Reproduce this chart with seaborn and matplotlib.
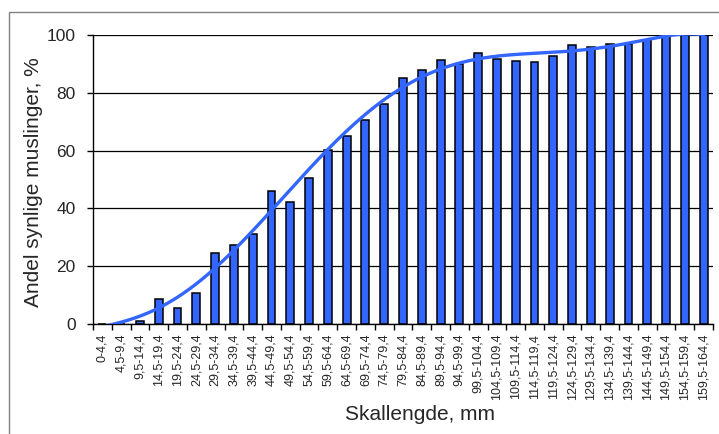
import numpy as np
import pandas as pd
import matplotlib
matplotlib.use("Agg")
import matplotlib.pyplot as plt
import seaborn as sns
from matplotlib.patches import Rectangle

# Shell length classes (mm)
lower = [0, 4.5, 9.5, 14.5, 19.5, 24.5, 29.5, 34.5, 39.5, 44.5, 49.5, 54.5,
         59.5, 64.5, 69.5, 74.5, 79.5, 84.5, 89.5, 94.5, 99.5, 104.5, 109.5,
         114.5, 119.5, 124.5, 129.5, 134.5, 139.5, 144.5, 149.5, 154.5, 159.5]
upper = [4.4, 9.4, 14.4, 19.4, 24.4, 29.4, 34.4, 39.4, 44.4, 49.4, 54.4, 59.4,
         64.4, 69.4, 74.4, 79.4, 84.4, 89.4, 94.4, 99.4, 104.4, 109.4, 114.4,
         119.4, 124.4, 129.4, 134.4, 139.4, 144.4, 149.4, 154.4, 159.4, 164.4]

# Share of visible mussels per length class (%)
share = [0.0, 0.0, 1.2, 8.5, 5.5, 10.6, 24.7, 27.3, 31.3, 46.1, 42.1, 50.4,
         60.2, 64.9, 70.5, 76.0, 85.1, 87.8, 91.3, 90.0, 93.8, 91.6, 91.0,
         90.7, 92.8, 96.4, 95.8, 97.0, 97.0, 98.3, 100.0, 100.0, 100.0]


def fmt(v):
    return f"{v:g}".replace(".", ",")


labels = [f"{fmt(a)}-{fmt(b)}" for a, b in zip(lower, upper)]
df = pd.DataFrame({"klasse": labels, "andel": share})

sns.set_theme(style="white")
plt.rcParams["font.family"] = ["Liberation Sans", "DejaVu Sans"]

blue = "#3366FF"
fig = plt.figure(figsize=(7.19, 4.34), dpi=100)
ax = fig.add_axes([93 / 719, 1 - 324 / 434, 620 / 719, 289 / 434])

sns.barplot(data=df, x="klasse", y="andel", color=blue, saturation=1,
            width=0.42, edgecolor="black", linewidth=1.1, ax=ax, zorder=2)

# Polynomial trend line (6th order) fitted to the class shares
xi = np.arange(1, len(share) + 1)
coef = np.polyfit(xi, share, 6)
xs = np.linspace(1, len(share), 400)
ax.plot(xs - 1, np.polyval(coef, xs), color=blue, lw=2.4, zorder=3,
        solid_capstyle="round")

ax.set_xlim(-0.5, len(share) - 0.5)
ax.set_ylim(0, 100)
ax.set_yticks(range(0, 101, 20))
ax.yaxis.grid(True, color="black", lw=0.9)
ax.set_axisbelow(True)

for side in ["top", "right"]:
    ax.spines[side].set_visible(False)
for side in ["left", "bottom"]:
    ax.spines[side].set_color("black")
    ax.spines[side].set_linewidth(1.0)

ax.set_xticks(range(len(labels)))
ax.set_xticklabels(labels, rotation=90, fontsize=9)
ax.set_xticks(np.arange(-0.5, len(labels)), minor=True)
ax.tick_params(axis="x", which="major", length=0, pad=7)
ax.tick_params(axis="x", which="minor", length=4, width=1.0, color="black",
               direction="out", bottom=True)
ax.tick_params(axis="y", length=4, width=1.0, color="black",
               direction="out", left=True, labelsize=12.5, pad=8.5)

ax.set_xlabel("Skallengde, mm", fontsize=15)
ax.set_ylabel("Andel synlige muslinger, %", fontsize=15)
ax.xaxis.set_label_coords(0.527, -0.28)
ax.yaxis.set_label_coords(-0.081, 0.49)

# Chart frame
fig.patches.append(Rectangle((8.5 / 719, -0.1), 1.2, 1 - 11.5 / 434 + 0.1,
                             transform=fig.transFigure, fill=False,
                             edgecolor="#808080", lw=1.0))

fig.savefig("out.png", dpi=100)
